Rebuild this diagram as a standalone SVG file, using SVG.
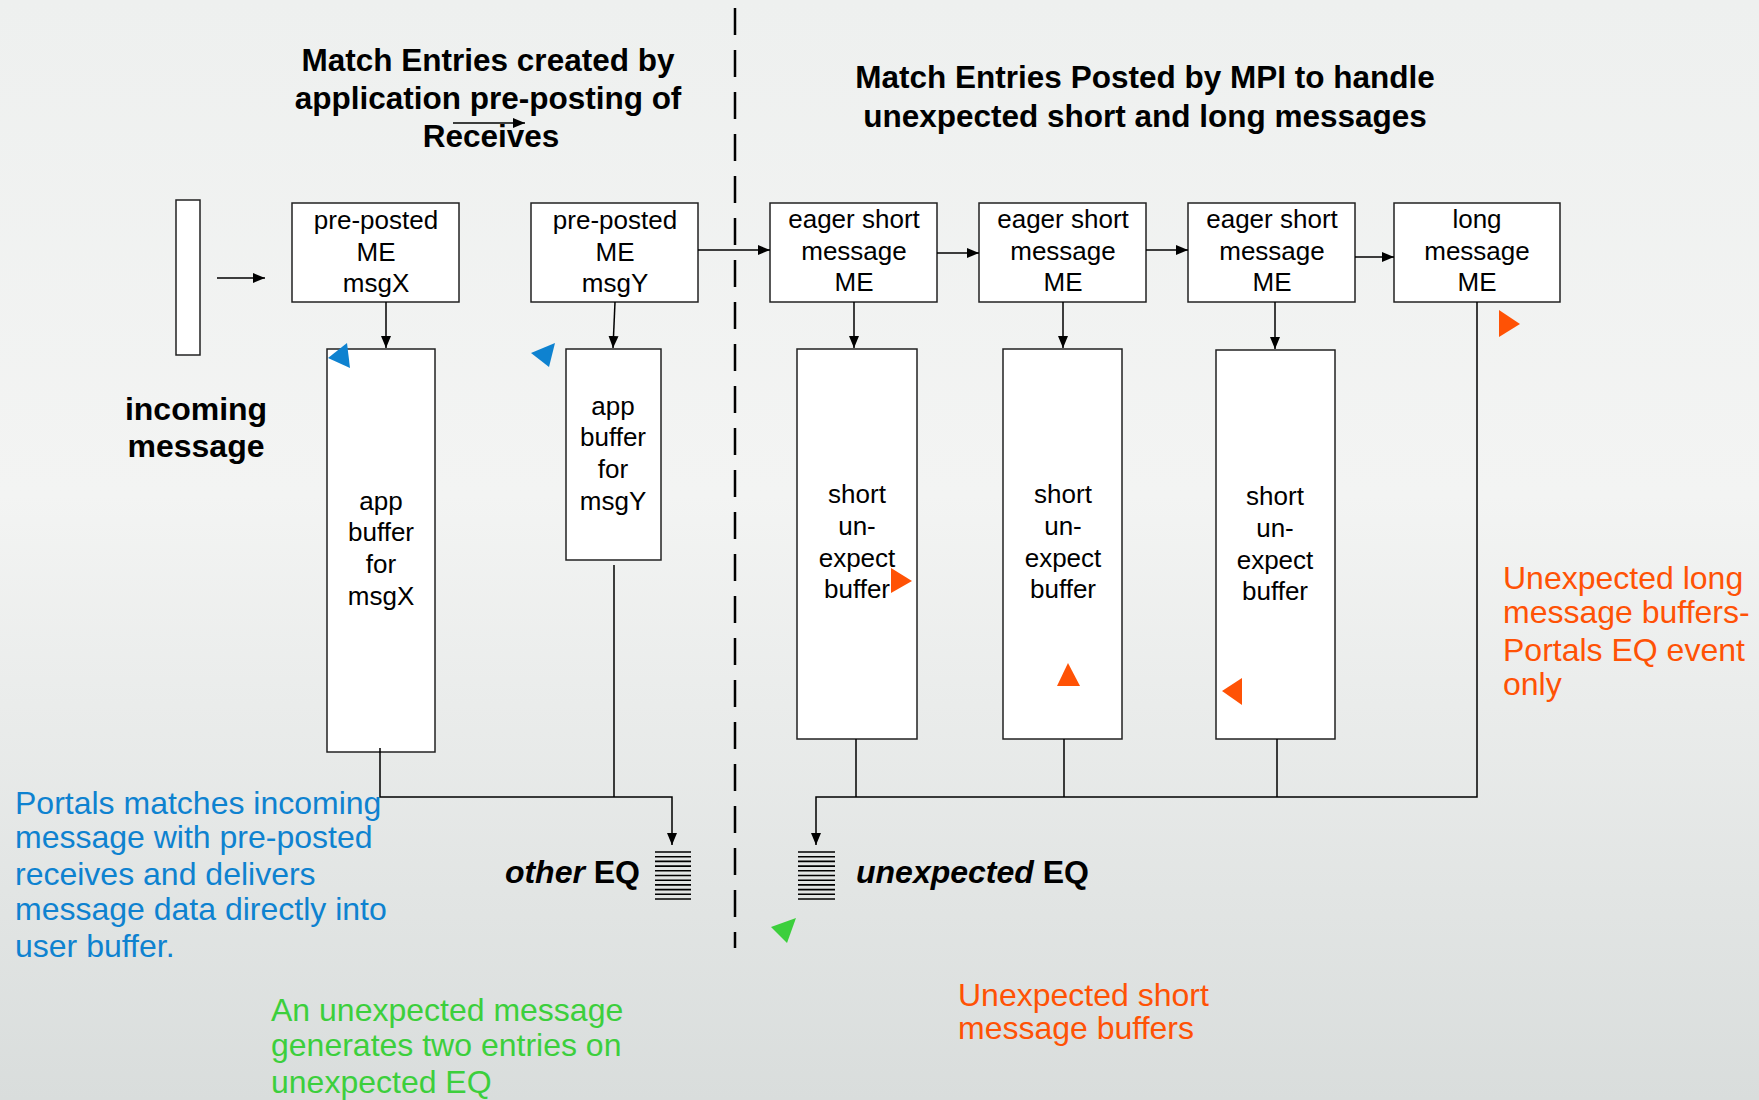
<svg xmlns="http://www.w3.org/2000/svg" width="1759" height="1100" viewBox="0 0 1759 1100">
<defs>
<linearGradient id="bg" x1="0" y1="0" x2="0" y2="1">
<stop offset="0" stop-color="#eef0ef"/>
<stop offset="0.45" stop-color="#f3f4f3"/>
<stop offset="1" stop-color="#d9dddc"/>
</linearGradient>
<marker id="ah" markerUnits="userSpaceOnUse" markerWidth="12" markerHeight="10" refX="12" refY="5" orient="auto">
<path d="M0,0 L12,5 L0,10 z" fill="#000"/>
</marker>
<style>
.box{fill:#fff;stroke:#222;stroke-width:1.5}
.t{font-family:"Liberation Sans",Arial,sans-serif;font-size:26px;fill:#000;text-anchor:middle}
.title{font-family:"Liberation Sans",Arial,sans-serif;font-size:31.5px;font-weight:bold;fill:#000;text-anchor:middle}
.big{font-family:"Liberation Sans",Arial,sans-serif;font-size:32px;font-weight:bold;fill:#000;text-anchor:middle}
.eq{font-family:"Liberation Sans",Arial,sans-serif;font-size:32px;font-weight:bold;fill:#000}
.note{font-family:"Liberation Sans",Arial,sans-serif;font-size:32px}
.blue{fill:#0e82d0}
.orange{fill:#ff5205}
.green{fill:#3ccf3c}
.conn{fill:none;stroke:#000;stroke-width:1.5}
.stack line{stroke:#000;stroke-width:1.6}
</style>
</defs>
<rect x="0" y="0" width="1759" height="1100" fill="url(#bg)"/>

<!-- divider -->
<line x1="735" y1="8" x2="735" y2="948" stroke="#000" stroke-width="2.5" stroke-dasharray="27,15"/>

<!-- titles -->
<g id="title-left">
<text class="title" x="488" y="71">Match Entries created by</text>
<text class="title" x="488" y="109">application pre-posting of</text>
<text class="title" x="491" y="147">Receives</text>
</g>
<g id="title-right">
<text class="title" x="1145" y="88">Match Entries Posted by MPI to handle</text>
<text class="title" x="1145" y="127">unexpected short and long messages</text>
</g>

<!-- incoming message -->
<g id="incoming">
<rect class="box" x="176" y="200" width="24" height="155"/>
<text class="big" x="196" y="420">incoming</text>
<text class="big" x="196" y="457">message</text>
</g>

<!-- ME boxes -->
<g id="me-msgX">
<rect class="box" x="292" y="203" width="167" height="99"/>
<text class="t" x="376" y="229">pre-posted</text>
<text class="t" x="376" y="261">ME</text>
<text class="t" x="376" y="292">msgX</text>
</g>
<g id="me-msgY">
<rect class="box" x="531" y="203" width="167" height="99"/>
<text class="t" x="615" y="229">pre-posted</text>
<text class="t" x="615" y="261">ME</text>
<text class="t" x="615" y="292">msgY</text>
</g>
<g id="me-eager1">
<rect class="box" x="770" y="203" width="167" height="99"/>
<text class="t" x="854" y="228">eager short</text>
<text class="t" x="854" y="260">message</text>
<text class="t" x="854" y="291">ME</text>
</g>
<g id="me-eager2">
<rect class="box" x="979" y="203" width="167" height="99"/>
<text class="t" x="1063" y="228">eager short</text>
<text class="t" x="1063" y="260">message</text>
<text class="t" x="1063" y="291">ME</text>
</g>
<g id="me-eager3">
<rect class="box" x="1188" y="203" width="167" height="99"/>
<text class="t" x="1272" y="228">eager short</text>
<text class="t" x="1272" y="260">message</text>
<text class="t" x="1272" y="291">ME</text>
</g>
<g id="me-long">
<rect class="box" x="1394" y="203" width="166" height="99"/>
<text class="t" x="1477" y="228">long</text>
<text class="t" x="1477" y="260">message</text>
<text class="t" x="1477" y="291">ME</text>
</g>

<!-- buffers -->
<g id="buf-msgX">
<rect class="box" x="327" y="349" width="108" height="403"/>
<text class="t" x="381" y="510">app</text>
<text class="t" x="381" y="541">buffer</text>
<text class="t" x="381" y="573">for</text>
<text class="t" x="381" y="605">msgX</text>
</g>
<g id="buf-msgY">
<rect class="box" x="566" y="349" width="95" height="211"/>
<text class="t" x="613" y="415">app</text>
<text class="t" x="613" y="446">buffer</text>
<text class="t" x="613" y="478">for</text>
<text class="t" x="613" y="510">msgY</text>
</g>
<g id="buf-short1">
<rect class="box" x="797" y="349" width="120" height="390"/>
<text class="t" x="857" y="503">short</text>
<text class="t" x="857" y="535">un-</text>
<text class="t" x="857" y="567">expect</text>
<text class="t" x="857" y="598">buffer</text>
</g>
<g id="buf-short2">
<rect class="box" x="1003" y="349" width="119" height="390"/>
<text class="t" x="1063" y="503">short</text>
<text class="t" x="1063" y="535">un-</text>
<text class="t" x="1063" y="567">expect</text>
<text class="t" x="1063" y="598">buffer</text>
</g>
<g id="buf-short3">
<rect class="box" x="1216" y="350" width="119" height="389"/>
<text class="t" x="1275" y="505">short</text>
<text class="t" x="1275" y="537">un-</text>
<text class="t" x="1275" y="569">expect</text>
<text class="t" x="1275" y="600">buffer</text>
</g>

<!-- event queues -->
<g id="other-eq">
<g class="stack">
<line x1="655" y1="852" x2="691" y2="852"/><line x1="655" y1="856.7" x2="691" y2="856.7"/><line x1="655" y1="861.4" x2="691" y2="861.4"/><line x1="655" y1="866.1" x2="691" y2="866.1"/><line x1="655" y1="870.8" x2="691" y2="870.8"/><line x1="655" y1="875.5" x2="691" y2="875.5"/><line x1="655" y1="880.2" x2="691" y2="880.2"/><line x1="655" y1="884.9" x2="691" y2="884.9"/><line x1="655" y1="889.6" x2="691" y2="889.6"/><line x1="655" y1="894.3" x2="691" y2="894.3"/><line x1="655" y1="899" x2="691" y2="899"/>
</g>
<text class="eq" x="640" y="883" text-anchor="end"><tspan font-style="italic">other</tspan> EQ</text>
</g>
<g id="unexpected-eq">
<g class="stack">
<line x1="798" y1="852" x2="835" y2="852"/><line x1="798" y1="856.7" x2="835" y2="856.7"/><line x1="798" y1="861.4" x2="835" y2="861.4"/><line x1="798" y1="866.1" x2="835" y2="866.1"/><line x1="798" y1="870.8" x2="835" y2="870.8"/><line x1="798" y1="875.5" x2="835" y2="875.5"/><line x1="798" y1="880.2" x2="835" y2="880.2"/><line x1="798" y1="884.9" x2="835" y2="884.9"/><line x1="798" y1="889.6" x2="835" y2="889.6"/><line x1="798" y1="894.3" x2="835" y2="894.3"/><line x1="798" y1="899" x2="835" y2="899"/>
</g>
<text class="eq" x="856" y="883"><tspan font-style="italic">unexpected</tspan> EQ</text>
</g>

<!-- connectors -->
<g id="connectors">
<line class="conn" x1="217" y1="278" x2="265" y2="278" marker-end="url(#ah)"/>
<line class="conn" x1="453" y1="123" x2="525" y2="123" marker-end="url(#ah)"/>
<line class="conn" x1="386" y1="302" x2="386" y2="348" marker-end="url(#ah)"/>
<line class="conn" x1="615" y1="302" x2="613" y2="348" marker-end="url(#ah)"/>
<line class="conn" x1="698" y1="250" x2="770" y2="250" marker-end="url(#ah)"/>
<line class="conn" x1="937" y1="253" x2="979" y2="253" marker-end="url(#ah)"/>
<line class="conn" x1="1146" y1="250" x2="1188" y2="250" marker-end="url(#ah)"/>
<line class="conn" x1="1355" y1="257" x2="1394" y2="257" marker-end="url(#ah)"/>
<line class="conn" x1="854" y1="302" x2="854" y2="348" marker-end="url(#ah)"/>
<line class="conn" x1="1063" y1="302" x2="1063" y2="348" marker-end="url(#ah)"/>
<line class="conn" x1="1275" y1="302" x2="1275" y2="349" marker-end="url(#ah)"/>
<path class="conn" d="M380,748 V797 H672 V845" marker-end="url(#ah)"/>
<line class="conn" x1="614" y1="565" x2="614" y2="797"/>
<path class="conn" d="M1477,302 V797 H816 V845" marker-end="url(#ah)"/>
<line class="conn" x1="856" y1="739" x2="856" y2="797"/>
<line class="conn" x1="1064" y1="739" x2="1064" y2="797"/>
<line class="conn" x1="1277" y1="739" x2="1277" y2="797"/>
</g>

<!-- callout triangles -->
<g id="markers">
<polygon points="328,358 347,343 350,368" fill="#0e82d0"/>
<polygon points="531,353 555,343 549,367" fill="#0e82d0"/>
<polygon points="891,568 912,581 891,593" fill="#ff5205"/>
<polygon points="1068,663 1057,686 1080,686" fill="#ff5205"/>
<polygon points="1222,691 1242,678 1242,705" fill="#ff5205"/>
<polygon points="1499,310 1520,324 1499,337" fill="#ff5205"/>
<polygon points="771,927 796,918 787,943" fill="#3ccf3c"/>
</g>

<!-- notes -->
<g id="note-blue">
<text class="note blue" x="15" y="814">Portals matches incoming</text>
<text class="note blue" x="15" y="848">message with pre-posted</text>
<text class="note blue" x="15" y="885">receives and delivers</text>
<text class="note blue" x="15" y="920">message data directly into</text>
<text class="note blue" x="15" y="957">user buffer.</text>
</g>
<g id="note-green">
<text class="note green" x="271" y="1021">An unexpected message</text>
<text class="note green" x="271" y="1056">generates two entries on</text>
<text class="note green" x="271" y="1093">unexpected EQ</text>
</g>
<g id="note-orange-short">
<text class="note orange" x="958" y="1006">Unexpected short</text>
<text class="note orange" x="958" y="1039">message buffers</text>
</g>
<g id="note-orange-long">
<text class="note orange" x="1503" y="589">Unexpected long</text>
<text class="note orange" x="1503" y="623">message buffers-</text>
<text class="note orange" x="1503" y="661">Portals EQ event</text>
<text class="note orange" x="1503" y="695">only</text>
</g>
</svg>
